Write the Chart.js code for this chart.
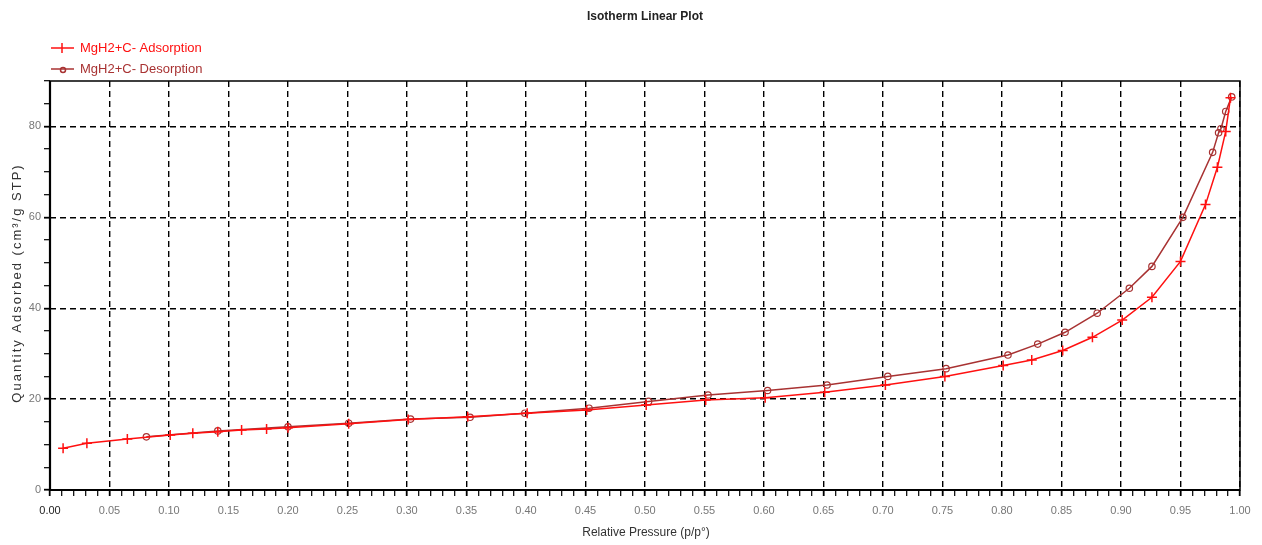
<!DOCTYPE html>
<html>
<head>
<meta charset="utf-8">
<script src="https://cdn.jsdelivr.net/npm/chart.js@4/dist/chart.umd.min.js"></script>
<style>
  body { margin: 0; background: #fff; }
  canvas { display: block; }
</style>
</head>
<body>
<canvas id="isotherm" width="1262" height="545"></canvas>
<script>
// adsorption branch (p/p0, cm3/g STP)
const pressureAds = [0.011, 0.031, 0.065, 0.101, 0.12, 0.141, 0.161, 0.182, 0.2, 0.251, 0.301, 0.351, 0.401, 0.451, 0.501, 0.551, 0.601, 0.651, 0.702, 0.752, 0.801, 0.825, 0.851, 0.876, 0.901, 0.926, 0.95, 0.971, 0.981, 0.988, 0.992];
const quantityAds = [9.2, 10.3, 11.2, 12.1, 12.5, 12.8, 13.2, 13.4, 13.7, 14.6, 15.5, 16.1, 16.9, 17.6, 18.7, 19.8, 20.3, 21.5, 23.1, 25.0, 27.4, 28.6, 30.7, 33.6, 37.4, 42.4, 50.3, 62.8, 71.0, 78.9, 86.3];

// desorption branch
const pressureDes = [0.993, 0.988, 0.984, 0.982, 0.977, 0.952, 0.926, 0.907, 0.88, 0.853, 0.83, 0.805, 0.753, 0.704, 0.653, 0.603, 0.553, 0.503, 0.453, 0.399, 0.353, 0.303, 0.251, 0.2, 0.141, 0.081];
const quantityDes = [86.5, 83.3, 79.5, 78.6, 74.3, 60.0, 49.2, 44.4, 38.9, 34.7, 32.1, 29.7, 26.7, 25.0, 23.1, 21.9, 20.9, 19.5, 18.0, 16.9, 16.0, 15.6, 14.7, 13.9, 13.0, 11.7];

const xTickLabels = ["0.00","0.05","0.10","0.15","0.20","0.25","0.30","0.35","0.40","0.45","0.50","0.55","0.60","0.65","0.70","0.75","0.80","0.85","0.90","0.95","1.00"];
const yTickLabels = [0, 20, 40, 60, 80];

const seriesNames = ["MgH2+C- Adsorption", "MgH2+C- Desorption"];
const seriesColors = ["#ff1010", "#a83232"];

const sans = "'Liberation Sans', Arial, sans-serif";

function toPoints(xs, ys) {
  return xs.map((x, i) => ({ x: x, y: ys[i] }));
}

function isMajorX(v) { return Math.round(v * 100) % 5 === 0; }
function isMajorY(v) { return yTickLabels.includes(Math.round(v)); }

// title, legend, axis titles and the plot frame
const decorations = {
  id: "decorations",
  afterDraw(chart) {
    const ctx = chart.ctx;
    const area = chart.chartArea;
    ctx.save();

    ctx.strokeStyle = "#000";
    ctx.lineWidth = 1.5;
    ctx.strokeRect(area.left, area.top, area.right - area.left, area.bottom - area.top);
    ctx.lineWidth = 2.2;
    ctx.beginPath();
    ctx.moveTo(area.left, area.top);
    ctx.lineTo(area.left, area.bottom);
    ctx.lineTo(area.right, area.bottom);
    ctx.stroke();

    ctx.fillStyle = "#222";
    ctx.font = "bold 12px " + sans;
    ctx.textAlign = "center";
    ctx.textBaseline = "middle";
    ctx.fillText("Isotherm Linear Plot", 645, 17);

    ctx.font = "12px " + sans;
    ctx.fillStyle = "#333";
    ctx.fillText("Relative Pressure (p/p\u00b0)", 646, 533);

    ctx.save();
    ctx.translate(17, 283);
    ctx.rotate(-Math.PI / 2);
    ctx.letterSpacing = "2px";
    ctx.font = "13px " + sans;
    ctx.fillStyle = "#333";
    ctx.fillText("Quantity Adsorbed (cm\u00b3/g STP)", 0, 0);
    ctx.restore();

    // legend rows
    const rows = [48, 69];
    rows.forEach((y, i) => {
      const c = seriesColors[i];
      ctx.strokeStyle = c;
      ctx.lineWidth = 1.5;
      ctx.beginPath();
      ctx.moveTo(51, y);
      ctx.lineTo(74, y);
      ctx.stroke();
      if (i === 0) {
        ctx.beginPath();
        ctx.moveTo(62, y - 5);
        ctx.lineTo(62, y + 5);
        ctx.stroke();
      } else {
        ctx.beginPath();
        ctx.arc(63, y + 1, 2.5, 0, Math.PI * 2);
        ctx.stroke();
      }
      ctx.fillStyle = c;
      ctx.font = "13px " + sans;
      ctx.textAlign = "left";
      ctx.fillText(seriesNames[i], 80, y);
    });

    ctx.restore();
  }
};

new Chart("isotherm", {
  type: "scatter",
  data: {
    datasets: [{
      label: seriesNames[0],
      data: toPoints(pressureAds, quantityAds),
      showLine: true,
      borderColor: seriesColors[0],
      backgroundColor: seriesColors[0],
      borderWidth: 1.5,
      pointStyle: "cross",
      pointRadius: 5,
      pointBorderWidth: 1.5,
      tension: 0
    }, {
      label: seriesNames[1],
      data: toPoints(pressureDes, quantityDes),
      showLine: true,
      borderColor: seriesColors[1],
      backgroundColor: "rgba(0,0,0,0)",
      borderWidth: 1.5,
      pointStyle: "circle",
      pointRadius: 3.2,
      pointBorderWidth: 1.2,
      tension: 0
    }]
  },
  options: {
    responsive: false,
    animation: false,
    devicePixelRatio: 1,
    layout: { padding: { top: 81, right: 22, left: 0, bottom: 0 } },
    plugins: {
      legend: { display: false },
      title: { display: false },
      tooltip: { enabled: false }
    },
    scales: {
      x: {
        type: "linear",
        min: 0,
        max: 1,
        afterFit: s => { s.height = 55; },
        // border.dash sets the dash of the grid lines
        border: { display: false, dash: [6, 4] },
        ticks: {
          stepSize: 0.01,
          autoSkip: false,
          maxRotation: 0,
          padding: 8,
          color: c => c.index === 0 ? "#222" : "#777",
          font: { family: sans, size: 11 },
          callback: v => isMajorX(v) ? xTickLabels[Math.round(v * 100) / 5] : ""
        },
        grid: {
          color: c => isMajorX(c.tick.value) ? "#000" : "rgba(0,0,0,0)",
          lineWidth: 1.4,
          tickColor: "#000",
          tickLength: 6,
          tickBorderDash: [],
          tickWidth: c => isMajorX(c.tick.value) ? 1.8 : 1.2
        }
      },
      y: {
        min: 0,
        max: 90,
        afterFit: s => { s.width = 50; },
        border: { display: false, dash: [6, 4] },
        ticks: {
          stepSize: 5,
          autoSkip: false,
          padding: 3,
          color: "#777",
          font: { family: sans, size: 11 },
          callback: v => isMajorY(v) ? String(v) : ""
        },
        grid: {
          color: c => isMajorY(c.tick.value) ? "#000" : "rgba(0,0,0,0)",
          lineWidth: 1.4,
          tickColor: "#000",
          tickLength: 6,
          tickBorderDash: [],
          tickWidth: c => isMajorY(c.tick.value) ? 1.8 : 1.2
        }
      }
    }
  },
  plugins: [decorations]
});
</script>
</body>
</html>
